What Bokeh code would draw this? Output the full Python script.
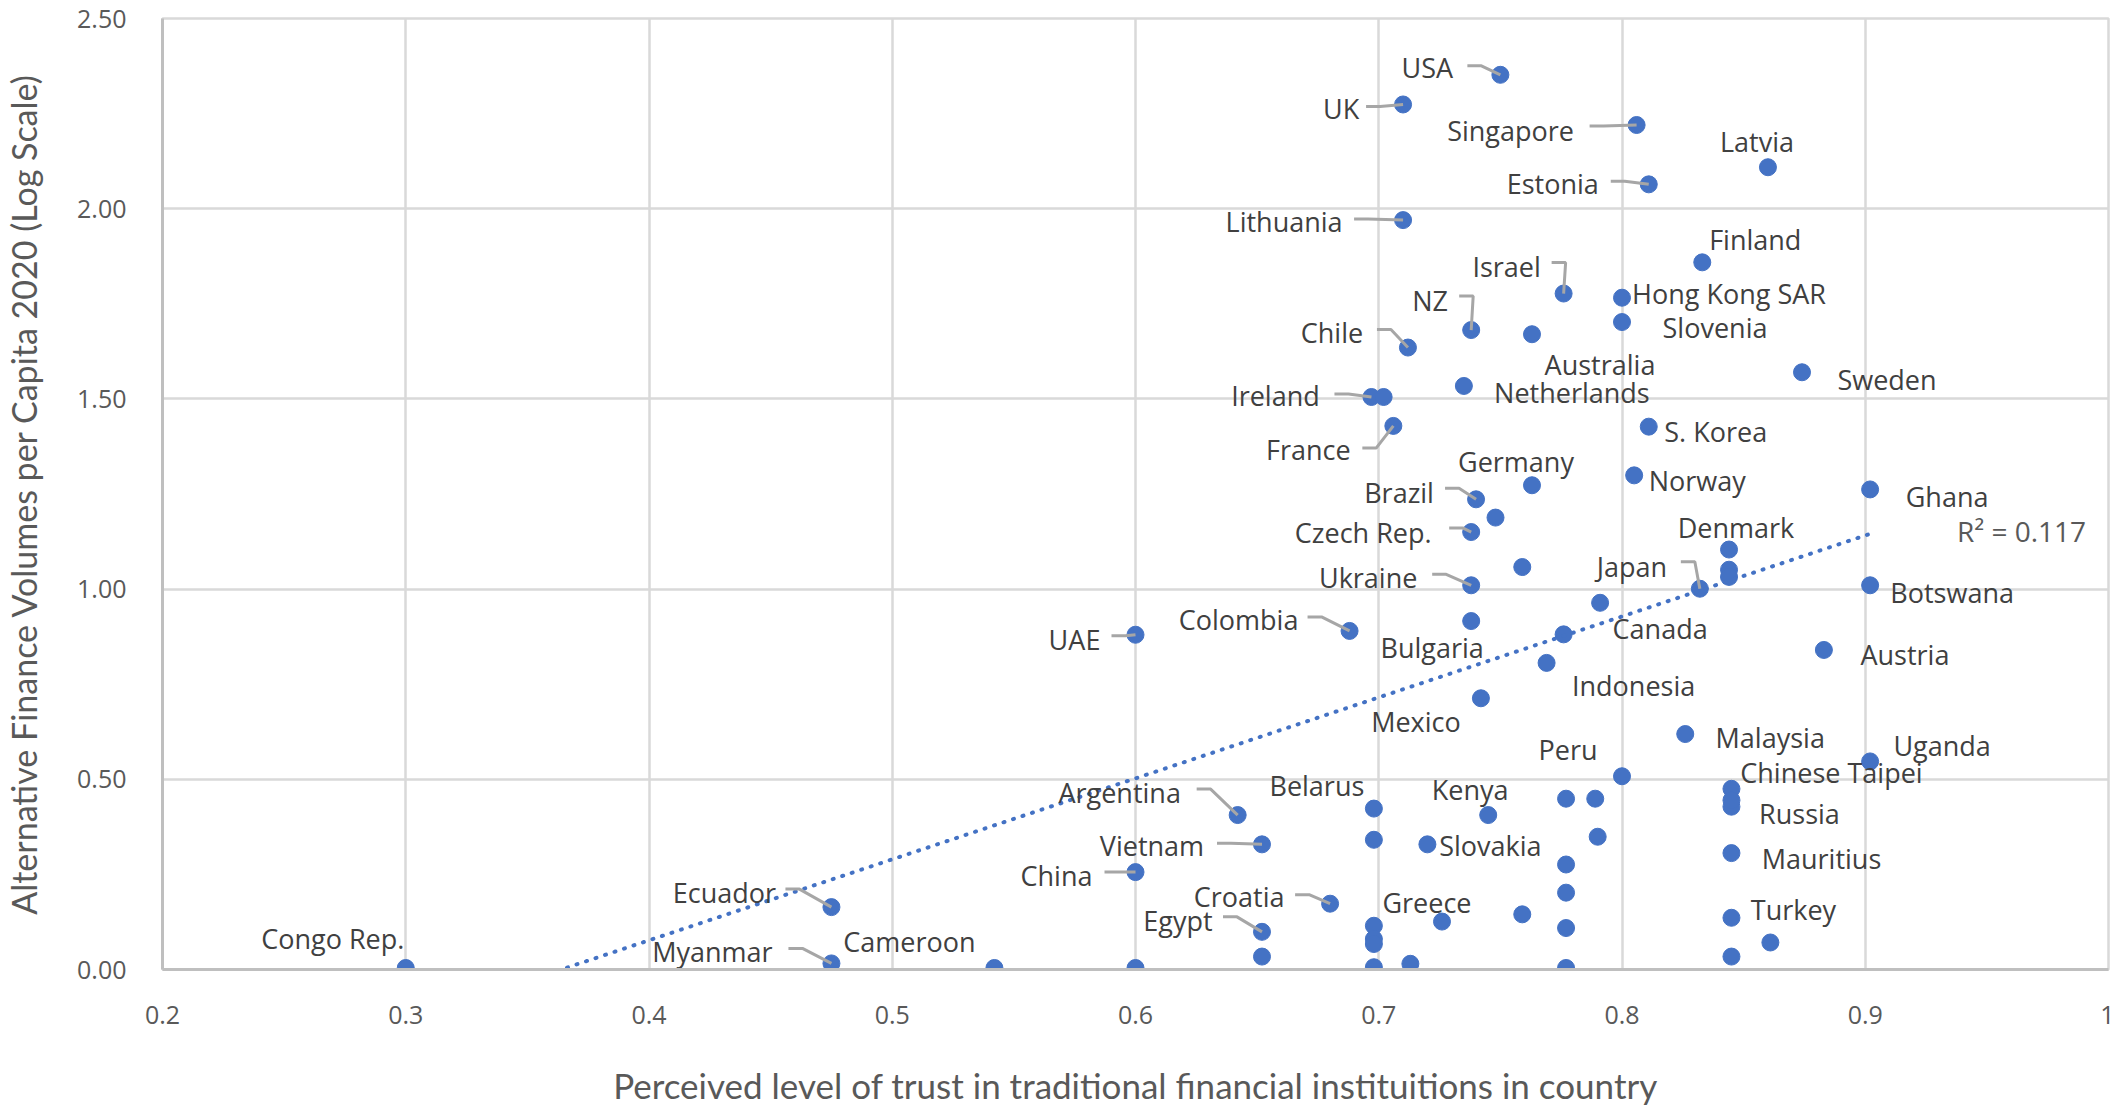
import numpy as np
from bokeh.plotting import figure
from bokeh.models import ColumnDataSource, FixedTicker, CustomJSTickFormatter, Range1d
from bokeh.core.properties import value
from bokeh.embed import file_html
from bokeh.resources import INLINE

# ---------------- data ----------------
countries = [
    "USA", "UK", "Singapore", "Latvia", "Estonia", "Lithuania", "Finland", "Israel",
    "Hong Kong SAR", "Slovenia", "NZ", "Australia", "Chile", "Sweden", "Netherlands",
    "Ireland", "", "France", "S. Korea", "Norway", "Germany", "Ghana", "Brazil", "",
    "Czech Rep.", "Denmark", "", "", "", "Ukraine", "Japan", "Botswana", "Canada",
    "Bulgaria", "Colombia", "UAE", "", "Austria", "Indonesia", "Mexico", "Malaysia",
    "Uganda", "Peru", "Chinese Taipei", "Russia", "", "", "", "Argentina", "Belarus",
    "Kenya", "", "", "Vietnam", "Slovakia", "Mauritius", "", "China", "", "Croatia",
    "Ecuador", "Greece", "", "Turkey", "Egypt", "", "", "", "", "", "", "",
    "Congo Rep.", "Myanmar", "Cameroon", "", "", "", "",
]
trust = [
    0.750, 0.710, 0.806, 0.860, 0.811, 0.710, 0.833, 0.776,
    0.800, 0.800, 0.738, 0.763, 0.712, 0.874, 0.735,
    0.697, 0.702, 0.706, 0.811, 0.805, 0.763, 0.902, 0.740, 0.748,
    0.738, 0.844, 0.844, 0.844, 0.759, 0.738, 0.832, 0.902, 0.791,
    0.738, 0.688, 0.600, 0.776, 0.883, 0.769, 0.742, 0.826,
    0.902, 0.800, 0.845, 0.845, 0.845, 0.777, 0.789, 0.642, 0.698,
    0.745, 0.790, 0.698, 0.652, 0.720, 0.845, 0.777, 0.600, 0.777, 0.680,
    0.475, 0.726, 0.759, 0.845, 0.652, 0.698, 0.698, 0.698, 0.777, 0.861, 0.652, 0.845,
    0.300, 0.475, 0.542, 0.600, 0.698, 0.713, 0.777,
]
volume_log = [
    2.352, 2.274, 2.220, 2.109, 2.064, 1.970, 1.859, 1.777,
    1.766, 1.702, 1.681, 1.670, 1.635, 1.570, 1.534,
    1.505, 1.505, 1.429, 1.427, 1.299, 1.273, 1.262, 1.236, 1.188,
    1.150, 1.104, 1.051, 1.032, 1.058, 1.010, 1.001, 1.010, 0.964,
    0.916, 0.890, 0.880, 0.881, 0.840, 0.806, 0.713, 0.619,
    0.547, 0.508, 0.475, 0.428, 0.445, 0.449, 0.449, 0.406, 0.423,
    0.406, 0.349, 0.341, 0.329, 0.329, 0.306, 0.276, 0.256, 0.202, 0.173,
    0.164, 0.126, 0.145, 0.136, 0.099, 0.115, 0.080, 0.067, 0.109, 0.071, 0.034, 0.034,
    0.004, 0.016, 0.004, 0.004, 0.006, 0.015, 0.004,
]
r_squared = 0.117

x_ticks = [0.2, 0.3, 0.4, 0.5, 0.6, 0.7, 0.8, 0.9, 1.0]
x_tick_labels = ["0.2", "0.3", "0.4", "0.5", "0.6", "0.7", "0.8", "0.9", "1"]
y_ticks = [0.0, 0.5, 1.0, 1.5, 2.0, 2.5]
y_tick_labels = ["0.00", "0.50", "1.00", "1.50", "2.00", "2.50"]

x_title = "Perceived level of trust in traditional financial instituitions in country"
y_title = "Alternative Finance Volumes per Capita 2020 (Log Scale)"

# ---------------- label layout (screen px: label dx, dy, leader start lx, ly) ----------------
label_layout = {
    "USA": (-73, -7, -33, -9), "UK": (-62, 4, -37, 2), "Singapore": (-126, 5, -47, 1),
    "Latvia": (-11, -26), "Estonia": (-96, -1, -38, -3), "Lithuania": (-119, 1, -49, -1),
    "Finland": (53, -23), "Israel": (-57, -27, -12, -31), "Hong Kong SAR": (107, -4),
    "Slovenia": (93, 5), "NZ": (-41, -30, -12, -34), "Australia": (68, 30),
    "Chile": (-76, -15, -31, -18), "Sweden": (85, 7), "Netherlands": (108, 7),
    "Ireland": (-96, -1, -37, -3), "France": (-85, 24, -31, 22), "S. Korea": (67, 5),
    "Norway": (63, 5), "Germany": (-16, -24), "Ghana": (77, 7),
    "Brazil": (-77, -7, -31, -11), "Czech Rep.": (-108, 0, -22, -4), "Denmark": (7, -22),
    "Ukraine": (-103, -8, -39, -11), "Japan": (-68, -22, -19, -27), "Botswana": (82, 7),
    "Canada": (60, 26), "Bulgaria": (-39, 26), "Colombia": (-111, -11, -42, -14),
    "UAE": (-61, 5, -24, 1), "Austria": (81, 5), "Indonesia": (87, 23), "Mexico": (-65, 23),
    "Malaysia": (85, 3), "Uganda": (72, -16), "Peru": (-54, -27), "Chinese Taipei": (100, -16),
    "Russia": (68, 7), "Argentina": (-118, -23, -41, -26), "Belarus": (-57, -23),
    "Kenya": (-18, -26), "Vietnam": (-110, 1, -45, -1), "Slovakia": (63, 1),
    "Mauritius": (90, 5), "China": (-79, 3, -31, 0), "Croatia": (-91, -7, -35, -9),
    "Ecuador": (-107, -15, -46, -18), "Greece": (-15, -19), "Turkey": (62, -8),
    "Egypt": (-84, -11, -39, -15), "Congo Rep.": (-73, -29), "Myanmar": (-119, -12, -43, -15),
    "Cameroon": (-85, -26),
}

# ---------------- figure ----------------
FW, FH = 1946, 951
X0, X1, Y0, Y1 = 0.2, 1.0, 0.0, 2.5
sx = (X1 - X0) / FW
sy = (Y1 - Y0) / FH

p = figure(
    frame_width=FW, frame_height=FH,
    min_border_left=157, min_border_right=6, min_border_top=18, min_border_bottom=125,
    x_range=Range1d(X0, X1), y_range=Range1d(Y0, Y1),
    output_backend="svg", toolbar_location=None, tools="",
    background_fill_color="white", border_fill_color="white",
)
p.outline_line_color = "#D9D9D9"
p.outline_line_width = 2.5

tick_code = """
const i = tick_vals.findIndex(t => Math.abs(t - tick) < 1e-9);
return i >= 0 ? tick_labels[i] : '';
"""
p.xaxis.ticker = FixedTicker(ticks=x_ticks)
p.xaxis.formatter = CustomJSTickFormatter(args=dict(tick_vals=x_ticks, tick_labels=x_tick_labels), code=tick_code)
p.yaxis.ticker = FixedTicker(ticks=y_ticks)
p.yaxis.formatter = CustomJSTickFormatter(args=dict(tick_vals=y_ticks, tick_labels=y_tick_labels), code=tick_code)

for ax in (p.xaxis[0], p.yaxis[0]):
    ax.axis_line_color = "#BFBFBF"
    ax.axis_line_width = 3
    ax.major_tick_line_color = None
    ax.minor_tick_line_color = None
    ax.major_label_text_font = "Open Sans"
    ax.major_label_text_font_size = "25px"
    ax.major_label_text_color = "#595959"
    ax.axis_label_text_font = "Lato"
    ax.axis_label_text_font_style = "normal"
    ax.axis_label_text_color = "#595959"

p.xaxis.axis_label_text_font_size = "35px"
p.yaxis.axis_label_text_font_size = "34px"
p.xaxis.axis_label = x_title
p.yaxis.axis_label = y_title
p.xaxis.major_label_standoff = 30
p.xaxis.axis_label_standoff = 37
p.yaxis.major_label_standoff = 30
p.yaxis.axis_label_standoff = 30

p.xgrid.grid_line_color = "#D9D9D9"
p.ygrid.grid_line_color = "#D9D9D9"
p.xgrid.grid_line_width = 2.5
p.ygrid.grid_line_width = 2.5

# points
pts = ColumnDataSource(dict(x=trust, y=volume_log))
p.scatter("x", "y", source=pts, size=17, fill_color="#4472C4", line_color="#4472C4")

# linear trendline (least squares on the data)
tx = np.array(trust)
ty = np.array(volume_log)
slope, intercept = np.polyfit(tx, ty, 1)
trend_x = [float(tx.min()), float(tx.max())]
trend_y = [slope * v + intercept for v in trend_x]
p.line(trend_x, trend_y, line_color="#4472C4", line_width=4, line_dash="1 9", line_cap="round")
p.text(x=[trend_x[1]], y=[trend_y[1]], text=[f"R\u00b2 = {r_squared:.3f}"],
       x_offset=87, y_offset=-3, text_align="left", text_baseline="middle",
       text_font=value("Open Sans"), text_font_size=value("28px"), text_color="#595959")

# labels & leader lines
lx_list, ly_list, ldx, ldy, lname = [], [], [], [], []
leader_xs, leader_ys = [], []
for name, xv, yv in zip(countries, trust, volume_log):
    if not name:
        continue
    lay = label_layout[name]
    lx_list.append(xv); ly_list.append(yv)
    ldx.append(lay[0]); ldy.append(lay[1]); lname.append(name)
    if len(lay) == 4:
        sxp, syp = lay[2], lay[3]
        pts_px = [(sxp, syp), (sxp + 14, syp), (0, 0)]
        leader_xs.append([xv + a * sx for a, b in pts_px])
        leader_ys.append([yv - b * sy for a, b in pts_px])

p.multi_line(leader_xs, leader_ys, line_color="#A6A6A6", line_width=3)

lab = ColumnDataSource(dict(x=lx_list, y=ly_list, dx=ldx, dy=ldy, name=lname))
p.text(x="x", y="y", text="name", x_offset="dx", y_offset="dy", source=lab,
       text_align="center", text_baseline="middle",
       text_font=value("Open Sans"), text_font_size=value("27px"), text_color="#404040")

open("out.html", "w").write(file_html(p, INLINE))
